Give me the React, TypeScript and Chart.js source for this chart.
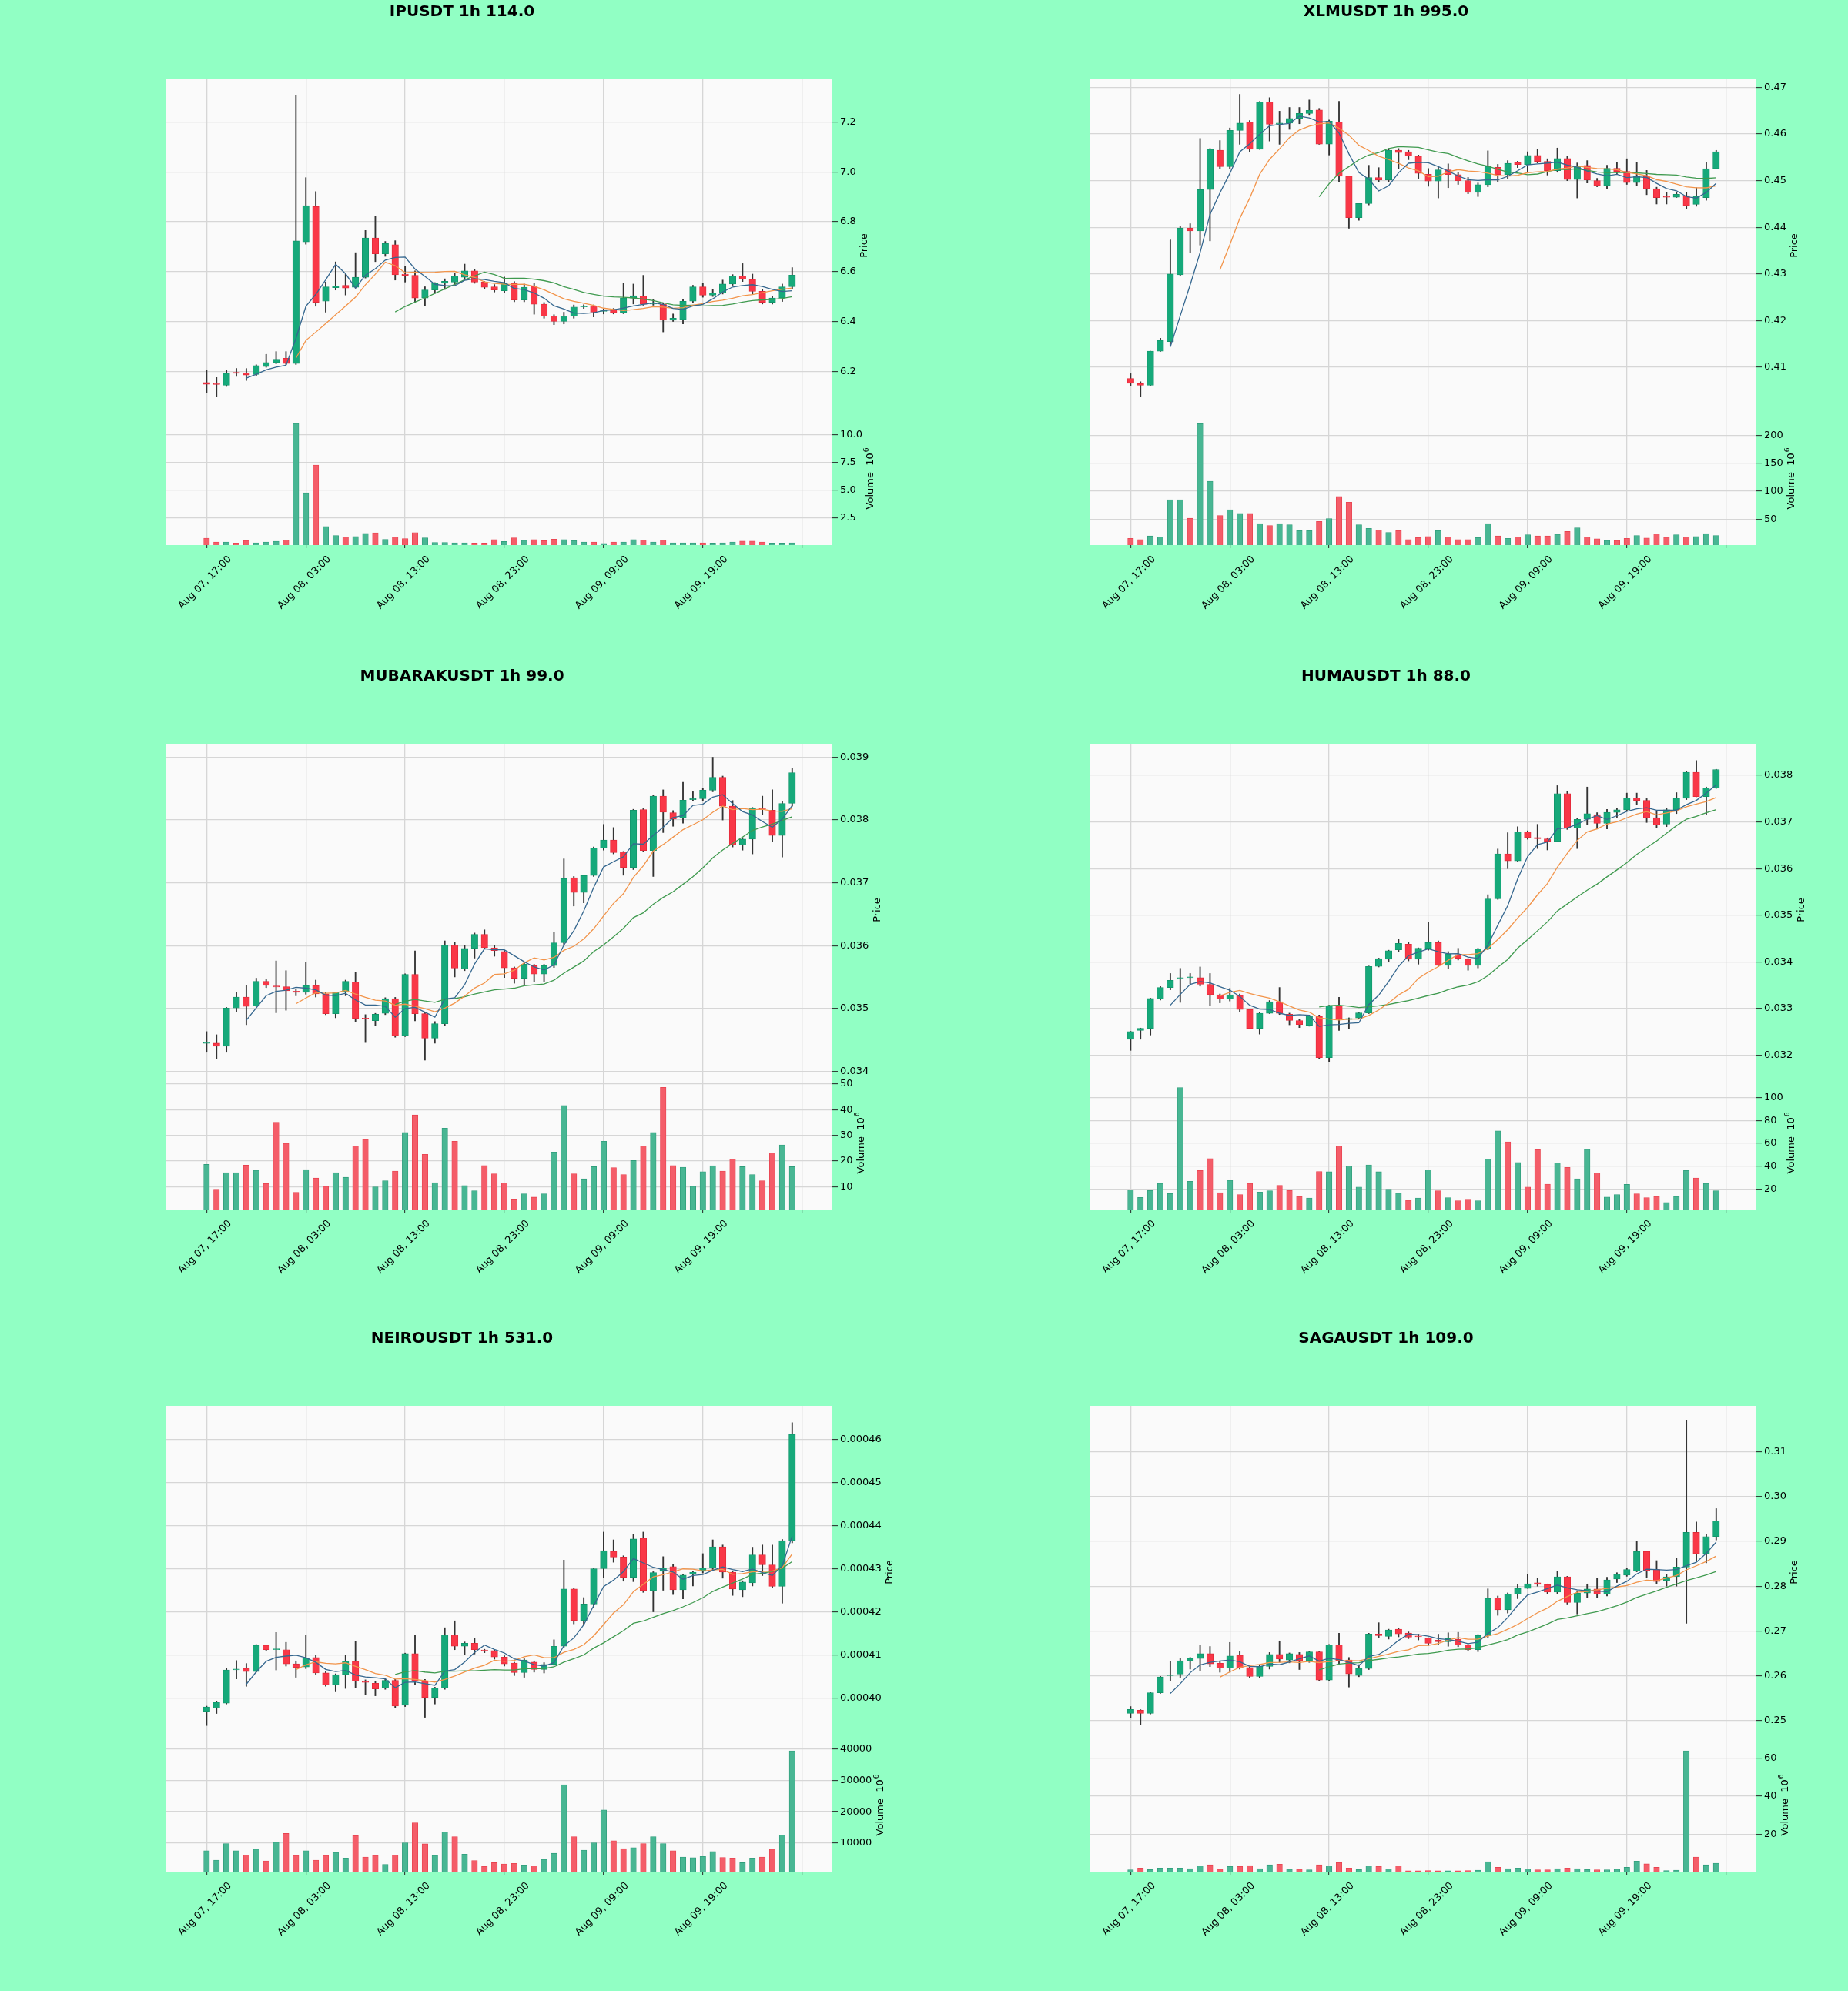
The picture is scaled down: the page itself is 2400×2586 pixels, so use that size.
import React, { useEffect, useRef } from 'react';
import { Chart, registerables } from 'chart.js';

Chart.register(...registerables);

const FONT = '"DejaVu Sans", sans-serif';
Chart.defaults.font.family = FONT;

// ---------- shared axis data ----------
const X_TICKS = [0, 10, 20, 30, 40, 50, 60];
const X_LABELS = ['Aug 07, 17:00', 'Aug 08, 03:00', 'Aug 08, 13:00', 'Aug 08, 23:00', 'Aug 09, 09:00', 'Aug 09, 19:00', ''];
const MA_PERIODS = [5, 10, 20];

// ---------- IPUSDT ----------
const IP_OPEN = [6.155, 6.148, 6.144, 6.194, 6.193, 6.187, 6.219, 6.235, 6.252, 6.231,
  6.719, 6.861, 6.481, 6.535, 6.545, 6.537, 6.577, 6.735, 6.671, 6.708,
  6.590, 6.585, 6.494, 6.526, 6.553, 6.558, 6.577, 6.603, 6.558, 6.539,
  6.523, 6.553, 6.486, 6.542, 6.469, 6.421, 6.400, 6.421, 6.458, 6.461,
  6.440, 6.448, 6.435, 6.494, 6.502, 6.470, 6.469, 6.405, 6.408, 6.481,
  6.539, 6.505, 6.515, 6.550, 6.582, 6.569, 6.521, 6.477, 6.494, 6.539];
const IP_HIGH = [6.203, 6.175, 6.203, 6.211, 6.211, 6.226, 6.268, 6.279, 6.279, 7.308,
  6.977, 6.921, 6.558, 6.639, 6.590, 6.676, 6.765, 6.823, 6.721, 6.724,
  6.623, 6.603, 6.539, 6.556, 6.571, 6.592, 6.630, 6.608, 6.560, 6.548,
  6.578, 6.560, 6.550, 6.553, 6.476, 6.427, 6.437, 6.466, 6.467, 6.466,
  6.450, 6.452, 6.555, 6.550, 6.585, 6.490, 6.475, 6.430, 6.487, 6.545,
  6.553, 6.530, 6.566, 6.588, 6.632, 6.590, 6.530, 6.500, 6.550, 6.616];
const IP_LOW = [6.115, 6.098, 6.139, 6.179, 6.163, 6.182, 6.216, 6.230, 6.227, 6.227,
  6.710, 6.461, 6.437, 6.526, 6.506, 6.534, 6.574, 6.640, 6.661, 6.566,
  6.558, 6.476, 6.462, 6.513, 6.528, 6.546, 6.571, 6.553, 6.530, 6.518,
  6.516, 6.479, 6.479, 6.429, 6.413, 6.387, 6.390, 6.413, 6.452, 6.418,
  6.430, 6.430, 6.431, 6.470, 6.465, 6.465, 6.358, 6.400, 6.390, 6.475,
  6.497, 6.500, 6.510, 6.545, 6.560, 6.510, 6.470, 6.470, 6.480, 6.532];
const IP_CLOSE = [6.148, 6.147, 6.192, 6.192, 6.185, 6.223, 6.235, 6.248, 6.231, 6.723,
  6.865, 6.477, 6.539, 6.542, 6.534, 6.577, 6.735, 6.671, 6.713, 6.587,
  6.585, 6.494, 6.526, 6.553, 6.561, 6.582, 6.603, 6.558, 6.537, 6.526,
  6.553, 6.486, 6.537, 6.469, 6.421, 6.400, 6.421, 6.458, 6.461, 6.437,
  6.442, 6.435, 6.494, 6.503, 6.469, 6.472, 6.405, 6.413, 6.481, 6.539,
  6.505, 6.515, 6.550, 6.582, 6.569, 6.521, 6.477, 6.494, 6.539, 6.586];
const IP_VOLUME = [0.69, 0.35, 0.35, 0.26, 0.49, 0.28, 0.35, 0.42, 0.51, 11.04,
  4.79, 7.29, 1.74, 0.93, 0.81, 0.85, 1.13, 1.18, 0.58, 0.79,
  0.65, 1.20, 0.72, 0.31, 0.31, 0.28, 0.28, 0.25, 0.25, 0.57,
  0.39, 0.72, 0.50, 0.57, 0.46, 0.60, 0.57, 0.46, 0.35, 0.35,
  0.22, 0.35, 0.35, 0.57, 0.53, 0.35, 0.53, 0.28, 0.28, 0.28,
  0.28, 0.25, 0.28, 0.35, 0.43, 0.43, 0.35, 0.25, 0.25, 0.28];
const IP_PRICE_TICKS = [6.2, 6.4, 6.6, 6.8, 7.0, 7.2];
const IP_PRICE_LABELS = ['6.2', '6.4', '6.6', '6.8', '7.0', '7.2'];
const IP_PRICE_RANGE = [6.037, 7.3715];
const IP_VOL_TICKS = [2.5, 5.0, 7.5, 10.0];
const IP_VOL_LABELS = ['2.5', '5.0', '7.5', '10.0'];
const IP_VOL_RANGE = [0.07, 12.08];

// ---------- XLMUSDT ----------
const XLM_OPEN = [0.40759, 0.40647, 0.40612, 0.41345, 0.41552, 0.42983, 0.43983, 0.43922, 0.4481, 0.45655,
  0.45302, 0.46078, 0.46259, 0.45672, 0.4669, 0.46207, 0.46233, 0.46336, 0.4644, 0.46517,
  0.45784, 0.46259, 0.45095, 0.44207, 0.44509, 0.45069, 0.45017, 0.45655, 0.4562, 0.45526,
  0.45138, 0.4499, 0.45233, 0.4513, 0.45, 0.4475, 0.44914, 0.45284, 0.4513, 0.45388,
  0.45345, 0.45543, 0.45414, 0.45216, 0.45474, 0.45026, 0.45328, 0.45, 0.44897, 0.45267,
  0.45198, 0.44957, 0.45095, 0.44828, 0.44672, 0.44647, 0.44681, 0.44491, 0.44638, 0.45259];
const XLM_HIGH = [0.40862, 0.4069, 0.41345, 0.4162, 0.4373, 0.4403, 0.44078, 0.45905, 0.4569, 0.4586,
  0.4613, 0.4685, 0.4629, 0.46698, 0.4678, 0.4649, 0.4657, 0.4657, 0.4673, 0.4655,
  0.463, 0.467, 0.45095, 0.44509, 0.4533, 0.4528, 0.4569, 0.4569, 0.4565, 0.4555,
  0.4526, 0.453, 0.4536, 0.4518, 0.4507, 0.4495, 0.4564, 0.4535, 0.4543, 0.4542,
  0.4562, 0.4568, 0.4547, 0.457, 0.4553, 0.4538, 0.4543, 0.4505, 0.4533, 0.454,
  0.4547, 0.454, 0.4522, 0.4486, 0.4475, 0.4475, 0.4475, 0.4485, 0.454, 0.4565];
const XLM_LOW = [0.40603, 0.40371, 0.40612, 0.4134, 0.4147, 0.4297, 0.43448, 0.4362, 0.4371, 0.4525,
  0.4525, 0.4578, 0.4562, 0.4567, 0.4585, 0.4578, 0.461, 0.4622, 0.464, 0.4578,
  0.4555, 0.4497, 0.4398, 0.4415, 0.4448, 0.4497, 0.4497, 0.4525, 0.4545, 0.4505,
  0.4488, 0.4463, 0.4485, 0.4492, 0.4472, 0.4466, 0.4487, 0.4497, 0.4505, 0.4528,
  0.4518, 0.4538, 0.4512, 0.4518, 0.45, 0.4463, 0.4495, 0.4487, 0.4483, 0.4515,
  0.4492, 0.449, 0.447, 0.445, 0.445, 0.4464, 0.444, 0.4445, 0.4458, 0.4525];
const XLM_CLOSE = [0.40655, 0.40612, 0.41345, 0.41578, 0.43, 0.43983, 0.43922, 0.4481, 0.45672, 0.45302,
  0.46078, 0.46233, 0.45672, 0.4669, 0.46207, 0.46233, 0.46336, 0.4644, 0.46509, 0.45784,
  0.46276, 0.45095, 0.44207, 0.44509, 0.45069, 0.45017, 0.45655, 0.45603, 0.45526, 0.45155,
  0.4499, 0.45233, 0.4513, 0.45, 0.4475, 0.44914, 0.45302, 0.4513, 0.45371, 0.45345,
  0.45543, 0.45414, 0.45216, 0.45474, 0.45026, 0.4531, 0.45017, 0.44897, 0.45267, 0.45198,
  0.44957, 0.45095, 0.44828, 0.44638, 0.44647, 0.44707, 0.44466, 0.44664, 0.45259, 0.45621];
const XLM_VOLUME = [15.2, 13.0, 19.6, 18.1, 84.8, 84.8, 51.4, 221.7, 118.1, 56.5,
  66.7, 60.1, 60.1, 42.0, 38.4, 42.0, 39.9, 29.0, 29.0, 45.7,
  50.7, 90.6, 80.4, 39.9, 33.3, 30.4, 26.1, 29.0, 13.0, 16.7,
  18.8, 29.0, 18.1, 13.0, 13.0, 16.7, 42.0, 19.6, 15.2, 18.1,
  21.7, 19.6, 19.6, 22.5, 27.5, 34.1, 18.1, 14.5, 11.6, 11.6,
  15.2, 20.3, 15.9, 23.2, 17.4, 21.7, 18.1, 18.8, 23.9, 20.3];
const XLM_PRICE_TICKS = [0.41, 0.42, 0.43, 0.44, 0.45, 0.46, 0.47];
const XLM_PRICE_LABELS = ['0.41', '0.42', '0.43', '0.44', '0.45', '0.46', '0.47'];
const XLM_PRICE_RANGE = [0.40043, 0.47173];
const XLM_VOL_TICKS = [50, 100, 150, 200];
const XLM_VOL_LABELS = ['50', '100', '150', '200'];
const XLM_VOL_RANGE = [3.2, 242.8];

// ---------- MUBARAKUSDT ----------
const MUB_OPEN = [0.034443, 0.034445, 0.034395, 0.035005, 0.03518, 0.03504, 0.03543, 0.035352, 0.035345, 0.035275,
  0.035255, 0.035365, 0.03523, 0.034915, 0.035255, 0.03542, 0.034832, 0.034805, 0.03492, 0.035155,
  0.034565, 0.03554, 0.034915, 0.034525, 0.034755, 0.036005, 0.03563, 0.035955, 0.03618, 0.035965,
  0.035905, 0.035645, 0.03548, 0.03568, 0.035545, 0.03568, 0.036045, 0.03708, 0.036845, 0.037115,
  0.037555, 0.03768, 0.03749, 0.037245, 0.038165, 0.037515, 0.03838, 0.038115, 0.03803, 0.038325,
  0.03834, 0.038475, 0.03868, 0.03822, 0.037605, 0.037695, 0.03818, 0.038155, 0.037755, 0.038265];
const MUB_HIGH = [0.03463, 0.03458, 0.035015, 0.03526, 0.03536, 0.03548, 0.03547, 0.035755, 0.0356, 0.03531,
  0.03574, 0.03545, 0.03525, 0.03526, 0.03545, 0.03558, 0.0349, 0.03492, 0.03517, 0.035175,
  0.03555, 0.035915, 0.03493, 0.03479, 0.036075, 0.03605, 0.036, 0.0362, 0.03625, 0.036,
  0.035925, 0.03566, 0.03573, 0.0357, 0.0357, 0.03621, 0.03738, 0.0371, 0.037125, 0.03757,
  0.03793, 0.03788, 0.0375, 0.03817, 0.03818, 0.03839, 0.03848, 0.03815, 0.0386, 0.03845,
  0.0385, 0.039, 0.0387, 0.03831, 0.03772, 0.0382, 0.03838, 0.03848, 0.0383, 0.03882];
const MUB_LOW = [0.0343, 0.0342, 0.0343, 0.03495, 0.03474, 0.03503, 0.03533, 0.03493, 0.03497, 0.0352,
  0.035225, 0.03518, 0.0349, 0.03485, 0.0352, 0.03478, 0.034455, 0.03472, 0.0349, 0.03454,
  0.03455, 0.0348, 0.034175, 0.034445, 0.03473, 0.0355, 0.0356, 0.0358, 0.035955, 0.03583,
  0.03549, 0.0354, 0.03538, 0.03542, 0.03542, 0.03565, 0.03602, 0.03663, 0.03668, 0.0371,
  0.03752, 0.03746, 0.03712, 0.03721, 0.0375, 0.0371, 0.0378, 0.0379, 0.03795, 0.0383,
  0.0383, 0.03845, 0.038, 0.03757, 0.03752, 0.03746, 0.03808, 0.03765, 0.03741, 0.03822];
const MUB_CLOSE = [0.034446, 0.034395, 0.035005, 0.03518, 0.03503, 0.03543, 0.035365, 0.035342, 0.03528, 0.035255,
  0.035365, 0.03523, 0.034915, 0.035255, 0.03543, 0.03484, 0.03483, 0.034905, 0.035155, 0.034565,
  0.03554, 0.034915, 0.034525, 0.034755, 0.036005, 0.03564, 0.035955, 0.03618, 0.035965, 0.03592,
  0.035645, 0.03548, 0.035705, 0.035545, 0.03568, 0.036045, 0.037065, 0.036845, 0.037115, 0.037555,
  0.03768, 0.03748, 0.037245, 0.038155, 0.037515, 0.03838, 0.038125, 0.038015, 0.038315, 0.03833,
  0.038475, 0.03868, 0.03822, 0.037605, 0.037695, 0.03819, 0.038175, 0.037755, 0.038265, 0.038755];
const MUB_VOLUME = [18.7, 9.1, 15.5, 15.5, 18.4, 16.4, 11.3, 35.1, 26.9, 7.9,
  16.7, 13.4, 10.2, 15.5, 13.7, 25.9, 28.4, 10.0, 12.4, 16.1,
  31.1, 37.9, 22.6, 11.6, 32.8, 27.7, 10.5, 8.5, 18.3, 15.1,
  11.5, 5.3, 7.3, 6.0, 7.3, 23.5, 41.6, 15.1, 13.1, 17.8,
  27.7, 17.5, 14.8, 20.2, 25.9, 31.1, 48.6, 18.3, 17.6, 10.2,
  15.9, 18.2, 16.1, 20.8, 17.8, 14.8, 12.4, 23.2, 26.3, 17.8];
const MUB_PRICE_TICKS = [0.034, 0.035, 0.036, 0.037, 0.038, 0.039];
const MUB_PRICE_LABELS = ['0.034', '0.035', '0.036', '0.037', '0.038', '0.039'];
const MUB_PRICE_RANGE = [0.033917, 0.039215];
const MUB_VOL_TICKS = [10, 20, 30, 40, 50];
const MUB_VOL_LABELS = ['10', '20', '30', '40', '50'];
const MUB_VOL_RANGE = [1.2, 52.9];

// ---------- HUMAUSDT ----------
const HUMA_OPEN = [0.032337, 0.032526, 0.032573, 0.0332, 0.03345, 0.033632, 0.033659, 0.033659, 0.033517, 0.033295,
  0.0332, 0.033281, 0.032978, 0.032573, 0.032897, 0.033146, 0.032877, 0.032742, 0.03264, 0.03283,
  0.031946, 0.033059, 0.032765, 0.032796, 0.032904, 0.033901, 0.034057, 0.034259, 0.03438, 0.034057,
  0.034293, 0.034414, 0.033922, 0.034158, 0.034057, 0.033922, 0.034279, 0.035351, 0.036316, 0.036167,
  0.036788, 0.036666, 0.036639, 0.036585, 0.03761, 0.036869, 0.037057, 0.037158, 0.03697, 0.037206,
  0.03726, 0.037516, 0.037462, 0.037091, 0.036956, 0.03726, 0.037509, 0.038067, 0.037543, 0.037731];
const HUMA_HIGH = [0.03251, 0.03258, 0.03322, 0.03347, 0.03375, 0.03386, 0.03375, 0.03389, 0.03375, 0.03331,
  0.03343, 0.03331, 0.03299, 0.03291, 0.03317, 0.03345, 0.0329, 0.03277, 0.03286, 0.03286,
  0.03307, 0.03324, 0.0328, 0.03291, 0.03391, 0.03408, 0.03425, 0.03449, 0.03442, 0.0343,
  0.03484, 0.03445, 0.03422, 0.03429, 0.03407, 0.03429, 0.03544, 0.03642, 0.03677, 0.0369,
  0.03681, 0.03695, 0.03666, 0.03778, 0.03766, 0.03708, 0.03775, 0.0372, 0.03727, 0.0373,
  0.03762, 0.03762, 0.0375, 0.03724, 0.0373, 0.03763, 0.03808, 0.03832, 0.03775, 0.03813];
const HUMA_LOW = [0.0321, 0.03234, 0.03243, 0.03318, 0.0334, 0.03313, 0.03353, 0.03348, 0.03306, 0.03312,
  0.03316, 0.03293, 0.03256, 0.03245, 0.03289, 0.03287, 0.03265, 0.03259, 0.03262, 0.03192,
  0.03185, 0.03253, 0.03256, 0.03278, 0.03289, 0.03389, 0.034, 0.03422, 0.03402, 0.03395,
  0.03425, 0.0339, 0.03386, 0.03404, 0.03382, 0.03387, 0.03426, 0.03534, 0.036, 0.03615,
  0.03663, 0.03643, 0.0364, 0.03658, 0.03684, 0.03643, 0.03695, 0.03685, 0.03685, 0.0371,
  0.03724, 0.03738, 0.03699, 0.03688, 0.0369, 0.03718, 0.03748, 0.03754, 0.03716, 0.03772];
const HUMA_CLOSE = [0.032506, 0.032573, 0.033214, 0.03345, 0.033605, 0.033659, 0.03366, 0.033517, 0.033295, 0.0332,
  0.033295, 0.032978, 0.032573, 0.032897, 0.033146, 0.032897, 0.032742, 0.032654, 0.032843, 0.031946,
  0.033059, 0.032775, 0.03278, 0.032904, 0.033901, 0.03407, 0.034239, 0.034394, 0.034057, 0.034293,
  0.034414, 0.033922, 0.034171, 0.034077, 0.033922, 0.034279, 0.035351, 0.036316, 0.036167, 0.036788,
  0.036666, 0.036639, 0.036585, 0.03761, 0.036869, 0.037057, 0.037179, 0.03697, 0.037206, 0.03726,
  0.037516, 0.037462, 0.037091, 0.036936, 0.03726, 0.037509, 0.038067, 0.037543, 0.037731, 0.038123];
const HUMA_VOLUME = [19.2, 12.8, 18.9, 25.0, 16.1, 108.8, 26.9, 36.3, 46.8, 17.0,
  27.7, 15.3, 25.0, 17.5, 18.6, 23.3, 18.9, 13.7, 12.3, 35.4,
  35.2, 57.8, 40.1, 21.9, 41.2, 35.2, 20.0, 16.4, 10.3, 12.3,
  37.0, 18.6, 12.6, 9.8, 11.2, 9.8, 46.2, 71.0, 61.4, 43.4,
  21.9, 54.5, 24.4, 42.9, 39.0, 29.1, 54.8, 34.3, 13.1, 15.3,
  24.1, 15.9, 12.6, 13.7, 8.4, 13.7, 36.3, 29.7, 25.0, 18.6];
const HUMA_PRICE_TICKS = [0.032, 0.033, 0.034, 0.035, 0.036, 0.037, 0.038];
const HUMA_PRICE_LABELS = ['0.032', '0.033', '0.034', '0.035', '0.036', '0.037', '0.038'];
const HUMA_PRICE_RANGE = [0.031544, 0.038679];
const HUMA_VOL_TICKS = [20, 40, 60, 80, 100];
const HUMA_VOL_LABELS = ['20', '40', '60', '80', '100'];
const HUMA_VOL_RANGE = [2.2, 118.6];

// ---------- NEIROUSDT ----------
const NEIRO_OPEN = [39.69e-5, 39.77e-5, 39.88e-5, 40.65e-5, 40.69e-5, 40.61e-5, 41.22e-5, 41.119e-5, 41.12e-5, 40.79e-5,
  40.72e-5, 40.94e-5, 40.58e-5, 40.30e-5, 40.54e-5, 40.85e-5, 40.39e-5, 40.34e-5, 40.23e-5, 40.41e-5,
  39.83e-5, 41.03e-5, 40.39e-5, 40.01e-5, 40.23e-5, 41.46e-5, 41.20e-5, 41.27e-5, 41.10e-5, 41.10e-5,
  40.95e-5, 40.81e-5, 40.59e-5, 40.83e-5, 40.66e-5, 40.78e-5, 41.20e-5, 42.53e-5, 41.80e-5, 42.18e-5,
  43.00e-5, 43.40e-5, 43.27e-5, 42.80e-5, 43.71e-5, 42.49e-5, 42.94e-5, 43.05e-5, 42.51e-5, 42.87e-5,
  42.94e-5, 43.02e-5, 43.51e-5, 42.92e-5, 42.51e-5, 42.67e-5, 43.32e-5, 43.09e-5, 42.59e-5, 43.65e-5];
const NEIRO_HIGH = [39.81e-5, 39.93e-5, 40.69e-5, 40.87e-5, 40.80e-5, 41.24e-5, 41.23e-5, 41.52e-5, 41.29e-5, 40.86e-5,
  41.45e-5, 40.99e-5, 40.61e-5, 40.56e-5, 40.99e-5, 41.31e-5, 40.42e-5, 40.39e-5, 40.45e-5, 40.43e-5,
  41.04e-5, 41.46e-5, 40.43e-5, 40.25e-5, 41.63e-5, 41.79e-5, 41.30e-5, 41.38e-5, 41.13e-5, 41.12e-5,
  40.98e-5, 40.83e-5, 40.91e-5, 40.86e-5, 40.82e-5, 41.35e-5, 43.20e-5, 42.55e-5, 42.33e-5, 43.02e-5,
  43.85e-5, 43.67e-5, 43.30e-5, 43.80e-5, 43.85e-5, 42.93e-5, 43.28e-5, 43.10e-5, 42.88e-5, 42.95e-5,
  43.35e-5, 43.67e-5, 43.55e-5, 42.95e-5, 42.72e-5, 43.50e-5, 43.55e-5, 43.55e-5, 43.68e-5, 46.39e-5];
const NEIRO_LOW = [39.36e-5, 39.64e-5, 39.86e-5, 40.44e-5, 40.27e-5, 40.60e-5, 41.09e-5, 40.65e-5, 40.74e-5, 40.48e-5,
  40.68e-5, 40.55e-5, 40.27e-5, 40.16e-5, 40.22e-5, 40.24e-5, 40.07e-5, 40.05e-5, 40.20e-5, 39.78e-5,
  39.80e-5, 40.30e-5, 39.55e-5, 39.86e-5, 40.20e-5, 41.12e-5, 41.00e-5, 41.02e-5, 41.05e-5, 40.90e-5,
  40.74e-5, 40.52e-5, 40.48e-5, 40.60e-5, 40.58e-5, 40.76e-5, 41.18e-5, 41.72e-5, 41.70e-5, 42.10e-5,
  42.80e-5, 43.15e-5, 42.71e-5, 42.70e-5, 42.45e-5, 42.00e-5, 42.50e-5, 42.40e-5, 42.30e-5, 42.60e-5,
  42.90e-5, 42.96e-5, 42.78e-5, 42.38e-5, 42.35e-5, 42.60e-5, 42.84e-5, 42.55e-5, 42.20e-5, 43.60e-5];
const NEIRO_CLOSE = [39.79e-5, 39.90e-5, 40.65e-5, 40.651e-5, 40.61e-5, 41.22e-5, 41.12e-5, 41.12e-5, 40.79e-5, 40.71e-5,
  40.93e-5, 40.58e-5, 40.30e-5, 40.54e-5, 40.85e-5, 40.39e-5, 40.36e-5, 40.21e-5, 40.41e-5, 39.81e-5,
  41.03e-5, 40.39e-5, 40.01e-5, 40.23e-5, 41.46e-5, 41.20e-5, 41.27e-5, 41.12e-5, 41.09e-5, 40.95e-5,
  40.79e-5, 40.59e-5, 40.88e-5, 40.66e-5, 40.78e-5, 41.20e-5, 42.53e-5, 41.80e-5, 42.18e-5, 43.00e-5,
  43.42e-5, 43.27e-5, 42.80e-5, 43.69e-5, 42.49e-5, 42.91e-5, 43.02e-5, 42.51e-5, 42.85e-5, 42.92e-5,
  43.02e-5, 43.51e-5, 42.92e-5, 42.53e-5, 42.69e-5, 43.32e-5, 43.09e-5, 42.59e-5, 43.65e-5, 46.12e-5];
const NEIRO_VOLUME = [7610, 4620, 9900, 7610, 6310, 8110, 4420, 10300, 13090, 6110,
  7610, 4620, 6110, 7110, 5310, 12390, 5610, 6110, 3320, 6310,
  10100, 16480, 9800, 6110, 13590, 12090, 6510, 4520, 2620, 3820,
  3420, 3620, 3120, 2820, 4920, 6810, 28540, 12090, 7810, 10100,
  20570, 10800, 8310, 8600, 9900, 12090, 9900, 7610, 5610, 5410,
  5810, 7410, 5510, 5310, 3820, 5310, 5610, 8110, 12590, 39310];
const NEIRO_PRICE_TICKS = [40e-5, 41e-5, 42e-5, 43e-5, 44e-5, 45e-5, 46e-5];
const NEIRO_PRICE_LABELS = ['0.00040', '0.00041', '0.00042', '0.00043', '0.00044', '0.00045', '0.00046'];
const NEIRO_PRICE_RANGE = [39.06e-5, 46.78e-5];
const NEIRO_VOL_TICKS = [10000, 20000, 30000, 40000];
const NEIRO_VOL_LABELS = ['10000', '20000', '30000', '40000'];
const NEIRO_VOL_RANGE = [993, 43222];

// ---------- SAGAUSDT ----------
const SAGA_OPEN = [0.25161, 0.25231, 0.25161, 0.25624, 0.26002, 0.26037, 0.26338, 0.26388, 0.26493, 0.26282,
  0.26177, 0.26458, 0.26184, 0.25988, 0.26212, 0.26479, 0.26352, 0.26479, 0.26338, 0.26535,
  0.25904, 0.26689, 0.26352, 0.2601, 0.26164, 0.26934, 0.26878, 0.27039, 0.26955, 0.26878,
  0.26843, 0.26794, 0.26759, 0.26815, 0.26689, 0.26584, 0.26899, 0.2774, 0.27474, 0.27824,
  0.2795, 0.28076, 0.28034, 0.27866, 0.28209, 0.27635, 0.27845, 0.27936, 0.27824, 0.2816,
  0.28245, 0.28336, 0.2877, 0.28371, 0.28125, 0.28209, 0.28427, 0.29198, 0.28721, 0.29107];
const SAGA_HIGH = [0.25315, 0.25245, 0.25638, 0.2599, 0.2632, 0.264, 0.2641, 0.26692, 0.26655, 0.2632,
  0.26745, 0.2655, 0.26195, 0.2625, 0.2652, 0.26779, 0.2651, 0.2652, 0.2655, 0.26555,
  0.267, 0.2695, 0.2641, 0.2625, 0.2695, 0.27185, 0.2704, 0.2707, 0.2698, 0.2693,
  0.2685, 0.2693, 0.2696, 0.2697, 0.267, 0.2692, 0.2794, 0.2778, 0.2785, 0.2803,
  0.2826, 0.2818, 0.2805, 0.2833, 0.2822, 0.279, 0.2805, 0.2818, 0.282, 0.283,
  0.284, 0.2901, 0.2878, 0.2857, 0.2826, 0.2862, 0.317, 0.2943, 0.2915, 0.2973];
const SAGA_LOW = [0.2507, 0.24915, 0.2515, 0.2561, 0.2588, 0.2595, 0.2615, 0.2611, 0.26205, 0.2608,
  0.2608, 0.2615, 0.2595, 0.2596, 0.2615, 0.263, 0.2629, 0.2614, 0.263, 0.2589,
  0.2589, 0.2625, 0.2575, 0.2598, 0.2614, 0.2685, 0.2682, 0.2687, 0.2683, 0.268,
  0.2668, 0.2669, 0.2666, 0.2665, 0.2655, 0.2654, 0.2685, 0.2735, 0.274, 0.2772,
  0.2795, 0.28, 0.2783, 0.2783, 0.276, 0.2738, 0.2775, 0.2775, 0.2778, 0.2808,
  0.2822, 0.2832, 0.2818, 0.2806, 0.28, 0.28, 0.2717, 0.2855, 0.2852, 0.2903];
const SAGA_CLOSE = [0.25252, 0.25161, 0.25624, 0.25974, 0.26023, 0.26338, 0.26388, 0.26493, 0.26268, 0.26177,
  0.26444, 0.26184, 0.25988, 0.26212, 0.26479, 0.26374, 0.26493, 0.26338, 0.26535, 0.25904,
  0.26689, 0.26338, 0.26044, 0.26164, 0.26934, 0.26899, 0.27025, 0.26934, 0.26864, 0.26871,
  0.26724, 0.26759, 0.26829, 0.26689, 0.26584, 0.26899, 0.27726, 0.27474, 0.27824, 0.2795,
  0.28055, 0.28041, 0.27866, 0.28209, 0.27635, 0.27845, 0.27936, 0.27824, 0.2814, 0.28266,
  0.28371, 0.2877, 0.28336, 0.28104, 0.28209, 0.28427, 0.29198, 0.28721, 0.29107, 0.29457];
const SAGA_VOLUME = [1.16, 2.15, 1.32, 2.15, 2.15, 2.15, 1.82, 3.31, 3.8, 1.49,
  2.98, 2.98, 3.47, 1.82, 3.8, 4.13, 1.49, 1.49, 1.16, 3.8,
  3.31, 4.96, 2.15, 1.32, 3.31, 2.98, 1.65, 3.31, 0.66, 0.66,
  0.83, 0.66, 0.66, 0.66, 0.83, 1.0, 5.45, 2.48, 1.82, 2.15,
  1.65, 1.16, 1.16, 1.82, 2.15, 1.82, 1.32, 1.16, 1.16, 1.49,
  2.48, 5.79, 4.3, 2.48, 0.83, 1.0, 63.8, 7.93, 3.8, 4.63];
const SAGA_PRICE_TICKS = [0.25, 0.26, 0.27, 0.28, 0.29, 0.30, 0.31];
const SAGA_PRICE_LABELS = ['0.25', '0.26', '0.27', '0.28', '0.29', '0.30', '0.31'];
const SAGA_PRICE_RANGE = [0.24603, 0.32022];
const SAGA_VOL_TICKS = [20, 40, 60];
const SAGA_VOL_LABELS = ['20', '40', '60'];
const SAGA_VOL_RANGE = [0.22, 70.3];

// ---------- styling / geometry ----------
const PAGE_BG = '#91FFC4';
const PLOT_BG = '#fafafa';
const GRID = '#d6d6d6';
const TICK_COLOR = '#222222';
const UP = '#16a97a';
const DOWN = '#f93747';
const UP_EDGE = '#11956a';
const DOWN_EDGE = '#e02a39';
const VOL_UP = '#48b693';
const VOL_DOWN = '#f45d69';
const VOL_UP_EDGE = '#2f9d7b';
const VOL_DOWN_EDGE = '#e8424f';
const WICK = '#333333';
const MA_COLORS = ['#35678f', '#f2944a', '#3f9a4f'];

const CELL_W = 1200;
const ROW_TOPS = [0, 863, 1723];
const PLOT_LEFT = 216;
const PLOT_RIGHT = 1081;
const PLOT_TOP = 103;
const SPLIT = 535;
const PLOT_BOTTOM = 708;
const VOL_CANVAS_H = 300;
const X_MIN = -4.06;
const X_MAX = 63.05;

interface PanelSpec {
  title: string;
  col: number;
  row: number;
  open: number[];
  high: number[];
  low: number[];
  close: number[];
  volume: number[];
  priceRange: number[];
  priceTicks: number[];
  priceLabels: string[];
  volRange: number[];
  volTicks: number[];
  volLabels: string[];
}

const PANELS: PanelSpec[] = [
  { title: 'IPUSDT 1h 114.0', col: 0, row: 0, open: IP_OPEN, high: IP_HIGH, low: IP_LOW, close: IP_CLOSE, volume: IP_VOLUME,
    priceRange: IP_PRICE_RANGE, priceTicks: IP_PRICE_TICKS, priceLabels: IP_PRICE_LABELS, volRange: IP_VOL_RANGE, volTicks: IP_VOL_TICKS, volLabels: IP_VOL_LABELS },
  { title: 'XLMUSDT 1h 995.0', col: 1, row: 0, open: XLM_OPEN, high: XLM_HIGH, low: XLM_LOW, close: XLM_CLOSE, volume: XLM_VOLUME,
    priceRange: XLM_PRICE_RANGE, priceTicks: XLM_PRICE_TICKS, priceLabels: XLM_PRICE_LABELS, volRange: XLM_VOL_RANGE, volTicks: XLM_VOL_TICKS, volLabels: XLM_VOL_LABELS },
  { title: 'MUBARAKUSDT 1h 99.0', col: 0, row: 1, open: MUB_OPEN, high: MUB_HIGH, low: MUB_LOW, close: MUB_CLOSE, volume: MUB_VOLUME,
    priceRange: MUB_PRICE_RANGE, priceTicks: MUB_PRICE_TICKS, priceLabels: MUB_PRICE_LABELS, volRange: MUB_VOL_RANGE, volTicks: MUB_VOL_TICKS, volLabels: MUB_VOL_LABELS },
  { title: 'HUMAUSDT 1h 88.0', col: 1, row: 1, open: HUMA_OPEN, high: HUMA_HIGH, low: HUMA_LOW, close: HUMA_CLOSE, volume: HUMA_VOLUME,
    priceRange: HUMA_PRICE_RANGE, priceTicks: HUMA_PRICE_TICKS, priceLabels: HUMA_PRICE_LABELS, volRange: HUMA_VOL_RANGE, volTicks: HUMA_VOL_TICKS, volLabels: HUMA_VOL_LABELS },
  { title: 'NEIROUSDT 1h 531.0', col: 0, row: 2, open: NEIRO_OPEN, high: NEIRO_HIGH, low: NEIRO_LOW, close: NEIRO_CLOSE, volume: NEIRO_VOLUME,
    priceRange: NEIRO_PRICE_RANGE, priceTicks: NEIRO_PRICE_TICKS, priceLabels: NEIRO_PRICE_LABELS, volRange: NEIRO_VOL_RANGE, volTicks: NEIRO_VOL_TICKS, volLabels: NEIRO_VOL_LABELS },
  { title: 'SAGAUSDT 1h 109.0', col: 1, row: 2, open: SAGA_OPEN, high: SAGA_HIGH, low: SAGA_LOW, close: SAGA_CLOSE, volume: SAGA_VOLUME,
    priceRange: SAGA_PRICE_RANGE, priceTicks: SAGA_PRICE_TICKS, priceLabels: SAGA_PRICE_LABELS, volRange: SAGA_VOL_RANGE, volTicks: SAGA_VOL_TICKS, volLabels: SAGA_VOL_LABELS },
];

function movingAverage(values: number[], n: number) {
  const out: { x: number; y: number }[] = [];
  for (let i = n - 1; i < values.length; i++) {
    let s = 0;
    for (let k = i - n + 1; k <= i; k++) s += values[k];
    out.push({ x: i, y: s / n });
  }
  return out;
}

function zeroPad(s: any) {
  s.paddingTop = 0;
  s.paddingBottom = 0;
  s.paddingLeft = 0;
  s.paddingRight = 0;
}

function xAxis(height: number, drawTicks: boolean) {
  return {
    type: 'linear',
    min: X_MIN,
    max: X_MAX,
    offset: false,
    afterBuildTicks: (s: any) => { s.ticks = X_TICKS.map((v) => ({ value: v })); },
    afterFit: (s: any) => { s.height = height; zeroPad(s); },
    ticks: { display: false },
    grid: { color: GRID, lineWidth: 1.3, drawTicks, tickLength: 4, tickColor: TICK_COLOR, tickWidth: 1, offset: false },
    border: { display: false },
  };
}

function yAxis(range: number[], ticks: number[], labels: string[]) {
  return {
    type: 'linear',
    position: 'right',
    min: range[0],
    max: range[1],
    afterBuildTicks: (s: any) => { s.ticks = ticks.map((v) => ({ value: v })); },
    afterFit: (s: any) => { s.width = CELL_W - PLOT_RIGHT; zeroPad(s); },
    ticks: {
      autoSkip: false,
      padding: 3,
      color: '#000000',
      font: { size: 13, family: FONT },
      callback: (_v: any, i: number) => labels[i],
    },
    grid: { color: GRID, lineWidth: 1.3, tickLength: 7, tickColor: TICK_COLOR, tickWidth: 1 },
    border: { display: false },
  };
}

const plotBg = {
  id: 'plotBg',
  beforeDraw(chart: any) {
    const { ctx, chartArea: a } = chart;
    ctx.save();
    ctx.fillStyle = PLOT_BG;
    ctx.fillRect(a.left, a.top, a.right - a.left, a.bottom - a.top);
    ctx.restore();
  },
};

function axisLabelX(ctx: CanvasRenderingContext2D, labels: string[]) {
  ctx.font = `13px ${FONT}`;
  let maxW = 0;
  labels.forEach((l) => { maxW = Math.max(maxW, ctx.measureText(l).width); });
  return PLOT_RIGHT + 7 + 3 + maxW + 4 + 7;
}

function CandlePanel({ spec }: { spec: PanelSpec }) {
  const priceRef = useRef<HTMLCanvasElement>(null);
  const volRef = useRef<HTMLCanvasElement>(null);

  useEffect(() => {
    if (!priceRef.current || !volRef.current) return;
    const idx = spec.close.map((_, i) => i);
    const up = idx.map((i) => spec.close[i] >= spec.open[i]);

    const priceText = {
      id: 'priceText',
      afterDraw(chart: any) {
        const ctx: CanvasRenderingContext2D = chart.ctx;
        ctx.save();
        ctx.fillStyle = '#000000';
        ctx.font = `bold 20px ${FONT}`;
        ctx.textAlign = 'center';
        ctx.textBaseline = 'middle';
        ctx.fillText(spec.title, CELL_W / 2, 16);
        const lx = axisLabelX(ctx, spec.priceLabels);
        ctx.font = `13px ${FONT}`;
        ctx.translate(lx, (PLOT_TOP + SPLIT) / 2);
        ctx.rotate(-Math.PI / 2);
        ctx.textAlign = 'center';
        ctx.textBaseline = 'middle';
        ctx.fillText('Price', 0, 0);
        ctx.restore();
      },
    };

    const volText = {
      id: 'volText',
      afterDraw(chart: any) {
        const ctx: CanvasRenderingContext2D = chart.ctx;
        const a = chart.chartArea;
        ctx.save();
        ctx.fillStyle = '#000000';
        const lx = axisLabelX(ctx, spec.volLabels);
        ctx.font = `13px ${FONT}`;
        const main = 'Volume  10';
        const wMain = ctx.measureText(main).width;
        ctx.font = `9px ${FONT}`;
        const wSup = ctx.measureText('6').width;
        const total = wMain + wSup + 1;
        ctx.save();
        ctx.translate(lx, (a.top + a.bottom) / 2);
        ctx.rotate(-Math.PI / 2);
        ctx.textAlign = 'left';
        ctx.textBaseline = 'middle';
        ctx.font = `13px ${FONT}`;
        ctx.fillText(main, -total / 2, 0);
        ctx.font = `9px ${FONT}`;
        ctx.fillText('6', -total / 2 + wMain + 1, -5);
        ctx.restore();
        ctx.font = `13px ${FONT}`;
        ctx.textAlign = 'center';
        ctx.textBaseline = 'middle';
        X_TICKS.forEach((v, i) => {
          const label = X_LABELS[i];
          if (!label) return;
          const px = chart.scales.x.getPixelForValue(v);
          const w = ctx.measureText(label).width;
          const side = (w + 12) * Math.SQRT1_2;
          ctx.save();
          ctx.translate(px - 2, a.bottom + 12 + side / 2);
          ctx.rotate(-Math.PI / 4);
          ctx.fillText(label, 0, 0);
          ctx.restore();
        });
        ctx.restore();
      },
    };

    const priceChart = new Chart(priceRef.current, {
      type: 'bar',
      data: {
        datasets: [
          ...MA_PERIODS.map((n, k) => ({
            type: 'line',
            data: movingAverage(spec.close, n),
            borderColor: MA_COLORS[k],
            borderWidth: 1.3,
            pointRadius: 0,
            fill: false,
            tension: 0,
            order: 0,
          })),
          {
            type: 'bar',
            data: idx.map((i) => ({ x: i, y: [spec.open[i], spec.close[i]] })),
            backgroundColor: up.map((u) => (u ? UP : DOWN)),
            borderColor: up.map((u) => (u ? UP_EDGE : DOWN_EDGE)),
            borderWidth: 0.8,
            borderSkipped: false,
            barThickness: 8.5,
            minBarLength: 1.2,
            grouped: false,
            order: 1,
          },
          {
            type: 'bar',
            data: idx.map((i) => ({ x: i, y: [spec.low[i], spec.high[i]] })),
            backgroundColor: WICK,
            borderWidth: 0,
            barThickness: 1.2,
            grouped: false,
            order: 2,
          },
        ] as any,
      },
      options: {
        animation: false,
        responsive: false,
        maintainAspectRatio: false,
        devicePixelRatio: 1,
        events: [],
        layout: { padding: { left: PLOT_LEFT, top: PLOT_TOP, right: 0, bottom: 0 } },
        plugins: { legend: { display: false }, tooltip: { enabled: false } },
        scales: {
          x: xAxis(0, false),
          y: yAxis(spec.priceRange, spec.priceTicks, spec.priceLabels),
        } as any,
      },
      plugins: [plotBg, priceText],
    } as any);

    const volChart = new Chart(volRef.current, {
      type: 'bar',
      data: {
        datasets: [
          {
            data: idx.map((i) => ({ x: i, y: spec.volume[i] })),
            backgroundColor: up.map((u) => (u ? VOL_UP : VOL_DOWN)),
            borderColor: up.map((u) => (u ? VOL_UP_EDGE : VOL_DOWN_EDGE)),
            borderWidth: 0.8,
            barThickness: 7.5,
            grouped: false,
          },
        ] as any,
      },
      options: {
        animation: false,
        responsive: false,
        maintainAspectRatio: false,
        devicePixelRatio: 1,
        events: [],
        layout: { padding: { left: PLOT_LEFT, top: 0, right: 0, bottom: 0 } },
        plugins: { legend: { display: false }, tooltip: { enabled: false } },
        scales: {
          x: xAxis(VOL_CANVAS_H - (PLOT_BOTTOM - SPLIT), true),
          y: yAxis(spec.volRange, spec.volTicks, spec.volLabels),
        } as any,
      },
      plugins: [plotBg, volText],
    } as any);

    return () => {
      priceChart.destroy();
      volChart.destroy();
    };
  }, [spec]);

  const left = spec.col * CELL_W;
  const top = ROW_TOPS[spec.row];
  return (
    <>
      <canvas
        ref={priceRef}
        width={CELL_W}
        height={SPLIT}
        style={{ position: 'absolute', left, top, width: CELL_W, height: SPLIT, display: 'block' }}
      />
      <canvas
        ref={volRef}
        width={CELL_W}
        height={VOL_CANVAS_H}
        style={{ position: 'absolute', left, top: top + SPLIT, width: CELL_W, height: VOL_CANVAS_H, display: 'block' }}
      />
    </>
  );
}

export default function App() {
  useEffect(() => {
    document.body.style.margin = '0';
  }, []);
  return (
    <div
      style={{
        position: 'absolute',
        left: 0,
        top: 0,
        width: 2400,
        height: 2586,
        background: PAGE_BG,
        overflow: 'hidden',
      }}
    >
      {PANELS.map((p) => (
        <CandlePanel key={p.title} spec={p} />
      ))}
    </div>
  );
}
